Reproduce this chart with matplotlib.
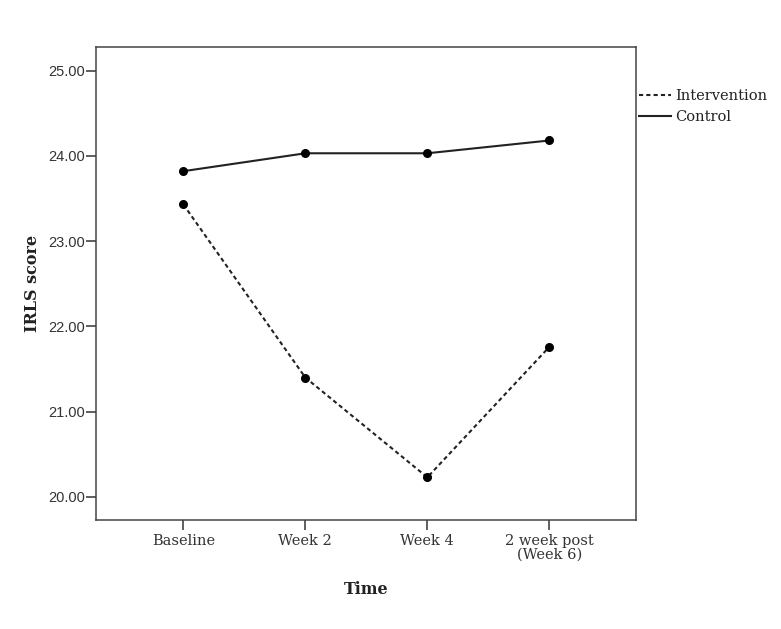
import numpy as np
import matplotlib
matplotlib.use("Agg")
import matplotlib.pyplot as plt

times = ["Baseline", "Week 2", "Week 4", "2 week post\n(Week 6)"]
intervention = [23.43, 21.40, 20.23, 21.76]
control = [23.82, 24.03, 24.03, 24.18]
yticks = [20, 21, 22, 23, 24, 25]

fig = plt.figure(figsize=(7.81, 6.29), dpi=100)
ax = fig.add_axes([0.1229, 0.1733, 0.6914, 0.7525])

x = np.arange(len(times))
ax.plot(x, intervention, color="#222222", linewidth=1.5, linestyle=(0, (2.0, 1.5)),
        marker="o", markersize=5.5, markerfacecolor="black", markeredgecolor="black",
        label="Intervention")
ax.plot(x, control, color="#222222", linewidth=1.5, linestyle="-",
        marker="o", markersize=5.5, markerfacecolor="black", markeredgecolor="black",
        label="Control")

ax.set_xlim(-0.716, 3.71)
ax.set_ylim(19.73, 25.28)
ax.set_xticks(x)
ax.set_xticklabels(times, family="DejaVu Serif", fontsize=10.5, color="#333333",
                   linespacing=1.0)
ax.set_yticks(yticks)
ax.set_yticklabels(["%.2f" % v for v in yticks], family="Liberation Sans",
                   fontsize=10.5, color="#333333")
ax.tick_params(axis="both", direction="out", length=7, width=1.1, color="#333333")
ax.tick_params(axis="y", pad=1)
ax.tick_params(axis="x", pad=3)

for s in ax.spines.values():
    s.set_linewidth(1.1)
    s.set_color("#444444")

ax.set_xlabel("Time", family="DejaVu Serif", fontweight="bold", fontsize=11.5,
              labelpad=14, color="#222222")
ax.set_ylabel("IRLS score", family="DejaVu Serif", fontweight="bold", fontsize=11.5,
              labelpad=5, color="#222222")

handles = [
    plt.Line2D([], [], color="#222222", linewidth=1.5, linestyle=(0, (2.0, 1.5))),
    plt.Line2D([], [], color="#222222", linewidth=1.5, linestyle="-"),
]
fig.legend(handles, ["Intervention", "Control"], loc="upper left",
           bbox_to_anchor=(639 / 781, 1 - 89 / 629), frameon=False,
           borderpad=0, borderaxespad=0, handlelength=2.2, handletextpad=0.3,
           labelspacing=0.5, prop={"family": "DejaVu Serif", "size": 10.5},
           labelcolor="#222222")

fig.savefig("out.png", dpi=100)
